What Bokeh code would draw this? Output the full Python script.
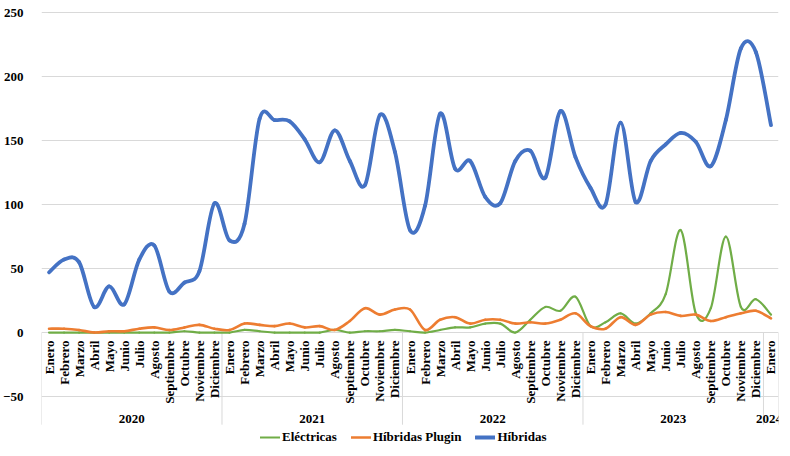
import math
import numpy as np
from bokeh.plotting import figure
from bokeh.models import Range1d, FixedTicker, Legend, LegendItem, ColumnDataSource
from bokeh.core.properties import value
from bokeh.embed import file_html
from bokeh.resources import INLINE

# ---------------- data ----------------
MONTHS = ["Enero", "Febrero", "Marzo", "Abril", "Mayo", "Junio", "Julio",
          "Agosto", "Septiembre", "Octubre", "Noviembre", "Diciembre"]
YEARS = ["2020", "2021", "2022", "2023", "2024"]
MONTHS_PER_YEAR = [12, 12, 12, 12, 1]

electricas = [0, 0, 0, 0, 0, 0, 0, 0, 0, 1, 0, 0,
              0, 2, 1, 0, 0, 0, 0, 2, 0, 1, 1, 2,
              1, 0, 2, 4, 4, 7, 7, 0, 10, 20, 17, 28,
              5, 8, 15, 7, 15, 30, 80, 15, 19, 75, 20, 26,
              14]
hibridas_plugin = [3, 3, 2, 0, 1, 1, 3, 4, 2, 4, 6, 3,
                   2, 7, 6, 5, 7, 4, 5, 2, 9, 19, 14, 18,
                   18, 2, 10, 12, 7, 10, 10, 7, 8, 7, 10, 15,
                   5, 3, 12, 6, 14, 16, 13, 14, 9, 12, 15, 17,
                   11]
hibridas = [47, 57, 55, 20, 36, 22, 57, 68, 32, 39, 48, 101,
            72, 85, 167, 166, 165, 151, 133, 158, 134, 115, 170, 141,
            80, 99, 171, 128, 134, 106, 101, 134, 142, 121, 173, 137,
            113, 100, 164, 102, 134, 147, 156, 149, 130, 166, 222, 219,
            162]

SERIES = [("Eléctricas", electricas, "#70AD47", 2.2),
          ("Híbridas Plugin", hibridas_plugin, "#ED7D31", 2.6),
          ("Híbridas", hibridas, "#4472C4", 3.8)]
Y_TICKS = [-50, 0, 50, 100, 150, 200, 250]

# ---------------- derived from data ----------------
month_labels = [MONTHS[m] for n in MONTHS_PER_YEAR for m in range(n)]
N = len(month_labels)
xs = np.arange(N) + 0.5
bounds = [0]
for n in MONTHS_PER_YEAR:
    bounds.append(bounds[-1] + n)
year_centers = [(bounds[i] + bounds[i + 1]) / 2 for i in range(len(YEARS))]
year_nudge = [0] * (len(YEARS) - 1) + [-2]

FONT_NAME = "'Liberation Serif', 'Times New Roman', serif"
FONT = value(FONT_NAME)
GRID = "#d9d9d9"

p = figure(width=782, height=448, output_backend="svg", toolbar_location=None,
           x_axis_location=None, x_range=Range1d(0, N),
           y_range=Range1d(-90.6, 259.4),
           min_border_left=37, min_border_right=4,
           min_border_top=0, min_border_bottom=0)
p.outline_line_color = None
p.background_fill_color = "white"
p.border_fill_color = "white"

p.yaxis.ticker = FixedTicker(ticks=Y_TICKS)
p.yaxis.axis_line_color = None
p.yaxis.major_tick_line_color = None
p.yaxis.minor_tick_line_color = None
p.yaxis.major_label_standoff = 12
p.yaxis.major_label_text_font = FONT_NAME
p.yaxis.major_label_text_font_style = "bold"
p.yaxis.major_label_text_font_size = "13px"
p.yaxis.major_label_text_color = "#000000"
p.ygrid.ticker = FixedTicker(ticks=Y_TICKS)
p.ygrid.grid_line_color = GRID
p.ygrid.grid_line_width = 1
for g in p.xgrid:
    g.visible = False

# year-band separators
p.segment(x0=bounds, y0=[0] * len(bounds), x1=bounds, y1=[-72] * len(bounds),
          line_color=GRID, line_width=1)

# month labels (rotated, hanging under the 0 line)
p.text(x=list(xs), y=[0] * N, text=month_labels, angle=math.pi / 2,
       text_align="right", text_baseline="middle", y_offset=8,
       text_font=FONT, text_font_style="bold", text_font_size="13px",
       text_color="#000000")

# year labels
p.text(x=year_centers, y=[-50] * len(YEARS), text=YEARS, x_offset=year_nudge,
       text_align="center", text_baseline="middle", y_offset=22,
       text_font=FONT, text_font_style="bold", text_font_size="13px",
       text_color="#000000")


def smooth_segments(vals):
    y = np.asarray(vals, dtype=float)
    n = len(y)
    d = dict(x0=[], y0=[], x1=[], y1=[], cx0=[], cy0=[], cx1=[], cy1=[])
    for i in range(n - 1):
        im1 = max(i - 1, 0)
        ip2 = min(i + 2, n - 1)
        d["x0"].append(xs[i]); d["y0"].append(y[i])
        d["x1"].append(xs[i + 1]); d["y1"].append(y[i + 1])
        d["cx0"].append(xs[i] + (xs[i + 1] - xs[im1]) / 6)
        d["cy0"].append(y[i] + (y[i + 1] - y[im1]) / 6)
        d["cx1"].append(xs[i + 1] - (xs[ip2] - xs[i]) / 6)
        d["cy1"].append(y[i + 1] - (y[ip2] - y[i]) / 6)
    return ColumnDataSource(d)


items = []
for name, vals, color, lw in SERIES:
    r = p.bezier(x0="x0", y0="y0", x1="x1", y1="y1", cx0="cx0", cy0="cy0",
                 cx1="cx1", cy1="cy1", source=smooth_segments(vals),
                 line_color=color, line_width=lw, line_cap="round")
    items.append(LegendItem(label=name, renderers=[r]))

legend = Legend(items=items, location=(219, 3), orientation="horizontal",
                label_text_font=FONT_NAME, label_text_font_style="bold",
                label_text_font_size="13px", label_text_color="#000000",
                glyph_width=20, glyph_height=14, label_height=14,
                label_standoff=2, spacing=14, padding=0, margin=0,
                border_line_color=None, background_fill_alpha=0)
p.add_layout(legend)

open("out.html", "w").write(file_html(p, INLINE))
